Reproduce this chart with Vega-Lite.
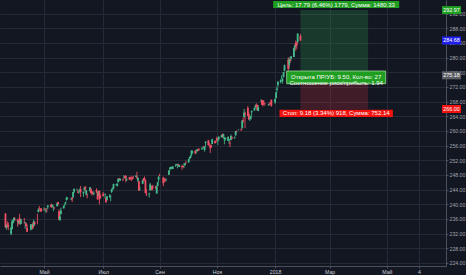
{
  "$schema": "https://vega.github.io/schema/vega-lite/v6.json",
  "width": 446,
  "height": 266,
  "autosize": {"type": "none"},
  "padding": {"left": 0, "top": 0, "right": 20, "bottom": 9},
  "background": "#131722",
  "config": {
    "view": {"stroke": null},
    "font": "Liberation Sans",
    "axis": {"gridColor": "#262a36", "gridWidth": 1, "domainColor": "#4c505c", "tickColor": "#4c505c", "tickSize": 2, "labelFont": "Liberation Sans", "labelFontSize": 5.2, "labelOverlap": false}
  },
  "datasets": {
    "spy": [
      {"date":"2017-03-21","open":237.47,"high":237.61,"low":233.58,"close":233.73},
      {"date":"2017-03-22","open":233.77,"high":234.61,"low":233.05,"close":234.28},
      {"date":"2017-03-23","open":234.28,"high":235.34,"low":233.60,"close":234.03},
      {"date":"2017-03-24","open":234.38,"high":235.04,"low":232.96,"close":233.86},
      {"date":"2017-03-27","open":231.93,"high":233.92,"low":231.61,"close":233.62},
      {"date":"2017-03-28","open":233.27,"high":235.81,"low":233.14,"close":235.32},
      {"date":"2017-03-29","open":234.99,"high":235.81,"low":234.73,"close":235.54},
      {"date":"2017-03-30","open":235.47,"high":236.52,"low":235.27,"close":236.29},
      {"date":"2017-03-31","open":235.90,"high":236.51,"low":235.68,"close":235.74},
      {"date":"2017-04-03","open":235.80,"high":236.03,"low":233.91,"close":235.33},
      {"date":"2017-04-04","open":235.00,"high":235.58,"low":234.56,"close":235.48},
      {"date":"2017-04-05","open":236.26,"high":237.39,"low":234.54,"close":234.78},
      {"date":"2017-04-06","open":234.96,"high":236.04,"low":234.43,"close":235.44},
      {"date":"2017-04-07","open":235.18,"high":236.00,"low":234.64,"close":235.20},
      {"date":"2017-04-10","open":235.36,"high":236.26,"low":234.73,"close":235.34},
      {"date":"2017-04-11","open":234.90,"high":235.18,"low":233.34,"close":235.06},
      {"date":"2017-04-12","open":234.80,"high":234.96,"low":233.77,"close":234.03},
      {"date":"2017-04-13","open":233.64,"high":234.49,"low":232.51,"close":232.51},
      {"date":"2017-04-17","open":233.11,"high":234.57,"low":232.88,"close":234.57},
      {"date":"2017-04-18","open":233.72,"high":234.49,"low":233.08,"close":233.87},
      {"date":"2017-04-19","open":234.52,"high":234.95,"low":233.18,"close":233.44},
      {"date":"2017-04-20","open":234.15,"high":235.85,"low":233.78,"close":235.34},
      {"date":"2017-04-21","open":235.25,"high":235.31,"low":234.13,"close":234.59},
      {"date":"2017-04-24","open":237.18,"high":237.41,"low":234.56,"close":237.17},
      {"date":"2017-04-25","open":237.91,"high":238.95,"low":237.81,"close":238.55},
      {"date":"2017-04-26","open":238.51,"high":239.53,"low":238.35,"close":238.40},
      {"date":"2017-04-27","open":238.77,"high":238.95,"low":237.98,"close":238.60},
      {"date":"2017-04-28","open":238.90,"high":238.93,"low":237.93,"close":238.08},
      {"date":"2017-05-01","open":238.68,"high":239.17,"low":238.20,"close":238.68},
      {"date":"2017-05-02","open":238.84,"high":238.98,"low":238.30,"close":238.77},
      {"date":"2017-05-03","open":238.29,"high":238.88,"low":237.70,"close":238.48},
      {"date":"2017-05-04","open":238.83,"high":238.92,"low":237.78,"close":238.76},
      {"date":"2017-05-05","open":239.19,"high":239.72,"low":238.68,"close":239.70},
      {"date":"2017-05-08","open":239.75,"high":239.92,"low":239.17,"close":239.66},
      {"date":"2017-05-09","open":239.96,"high":240.19,"low":239.04,"close":239.44},
      {"date":"2017-05-10","open":239.39,"high":239.87,"low":239.15,"close":239.87},
      {"date":"2017-05-11","open":239.35,"high":239.57,"low":238.13,"close":239.38},
      {"date":"2017-05-12","open":239.09,"high":239.21,"low":238.67,"close":238.98},
      {"date":"2017-05-15","open":239.47,"high":240.44,"low":239.45,"close":240.30},
      {"date":"2017-05-16","open":240.62,"high":240.67,"low":239.63,"close":240.08},
      {"date":"2017-05-17","open":238.10,"high":238.64,"low":235.75,"close":235.82},
      {"date":"2017-05-18","open":235.73,"high":237.75,"low":235.43,"close":236.77},
      {"date":"2017-05-19","open":237.33,"high":239.08,"low":237.27,"close":238.31},
      {"date":"2017-05-22","open":238.90,"high":239.71,"low":238.82,"close":239.52},
      {"date":"2017-05-23","open":239.95,"high":240.24,"low":239.51,"close":240.05},
      {"date":"2017-05-24","open":240.32,"high":240.73,"low":239.93,"close":240.61},
      {"date":"2017-05-25","open":241.20,"high":242.08,"low":240.96,"close":241.76},
      {"date":"2017-05-26","open":241.54,"high":241.90,"low":241.45,"close":241.71},
      {"date":"2017-05-30","open":241.33,"high":241.79,"low":241.16,"close":241.50},
      {"date":"2017-05-31","open":241.84,"high":241.88,"low":240.64,"close":241.44},
      {"date":"2017-06-01","open":241.97,"high":243.38,"low":241.64,"close":243.36},
      {"date":"2017-06-02","open":243.42,"high":244.35,"low":243.08,"close":244.17},
      {"date":"2017-06-05","open":243.99,"high":244.30,"low":243.76,"close":243.99},
      {"date":"2017-06-06","open":243.34,"high":243.98,"low":243.12,"close":243.21},
      {"date":"2017-06-07","open":243.60,"high":243.92,"low":242.83,"close":243.66},
      {"date":"2017-06-08","open":243.77,"high":244.33,"low":243.17,"close":243.78},
      {"date":"2017-06-09","open":244.09,"high":245.01,"low":241.95,"close":243.41},
      {"date":"2017-06-12","open":243.03,"high":243.57,"low":242.02,"close":243.36},
      {"date":"2017-06-13","open":243.98,"high":244.61,"low":243.58,"close":244.55},
      {"date":"2017-06-14","open":244.86,"high":244.87,"low":243.29,"close":244.24},
      {"date":"2017-06-15","open":242.68,"high":243.91,"low":242.36,"close":243.77},
      {"date":"2017-06-16","open":242.77,"high":242.83,"low":241.63,"close":242.64},
      {"date":"2017-06-19","open":243.59,"high":244.73,"low":243.48,"close":244.66},
      {"date":"2017-06-20","open":244.25,"high":244.26,"low":242.99,"close":243.01},
      {"date":"2017-06-21","open":243.46,"high":243.59,"low":242.41,"close":242.95},
      {"date":"2017-06-22","open":242.96,"high":243.53,"low":242.64,"close":242.84},
      {"date":"2017-06-23","open":242.91,"high":243.51,"low":242.47,"close":243.13},
      {"date":"2017-06-26","open":243.90,"high":244.38,"low":243.05,"close":243.29},
      {"date":"2017-06-27","open":243.04,"high":243.38,"low":241.31,"close":241.33},
      {"date":"2017-06-28","open":242.50,"high":243.72,"low":242.23,"close":243.49},
      {"date":"2017-06-29","open":243.66,"high":243.72,"low":239.96,"close":241.35},
      {"date":"2017-06-30","open":242.28,"high":242.71,"low":241.58,"close":241.80},
      {"date":"2017-07-03","open":242.88,"high":243.38,"low":242.21,"close":242.21},
      {"date":"2017-07-05","open":242.63,"high":243.01,"low":241.70,"close":242.77},
      {"date":"2017-07-06","open":241.83,"high":241.91,"low":240.45,"close":240.55},
      {"date":"2017-07-07","open":241.22,"high":242.36,"low":241.00,"close":242.11},
      {"date":"2017-07-10","open":241.99,"high":242.80,"low":241.76,"close":242.37},
      {"date":"2017-07-11","open":242.12,"high":242.55,"low":240.85,"close":242.19},
      {"date":"2017-07-12","open":243.36,"high":244.23,"low":243.07,"close":244.01},
      {"date":"2017-07-13","open":244.12,"high":244.54,"low":243.92,"close":244.42},
      {"date":"2017-07-14","open":244.38,"high":245.63,"low":244.09,"close":245.56},
      {"date":"2017-07-17","open":245.38,"high":245.61,"low":245.08,"close":245.53},
      {"date":"2017-07-18","open":245.03,"high":245.66,"low":244.85,"close":245.66},
      {"date":"2017-07-19","open":246.03,"high":247.00,"low":245.92,"close":246.99},
      {"date":"2017-07-20","open":247.11,"high":247.20,"low":246.40,"close":246.96},
      {"date":"2017-07-21","open":246.51,"high":247.06,"low":246.33,"close":246.94},
      {"date":"2017-07-24","open":246.81,"high":247.01,"low":246.36,"close":246.69},
      {"date":"2017-07-25","open":247.30,"high":247.99,"low":247.04,"close":247.43},
      {"date":"2017-07-26","open":247.64,"high":247.64,"low":247.04,"close":247.42},
      {"date":"2017-07-27","open":247.76,"high":248.00,"low":246.05,"close":247.05},
      {"date":"2017-07-28","open":246.66,"high":247.27,"low":246.28,"close":246.81},
      {"date":"2017-07-31","open":247.38,"high":247.50,"low":246.63,"close":246.77},
      {"date":"2017-08-01","open":247.46,"high":247.50,"low":246.72,"close":247.32},
      {"date":"2017-08-02","open":247.47,"high":247.60,"low":246.37,"close":247.44},
      {"date":"2017-08-03","open":247.31,"high":247.34,"low":246.64,"close":246.96},
      {"date":"2017-08-04","open":247.52,"high":247.79,"low":246.97,"close":247.41},
      {"date":"2017-08-07","open":247.49,"high":247.87,"low":247.37,"close":247.87},
      {"date":"2017-08-08","open":247.51,"high":248.91,"low":246.83,"close":247.26},
      {"date":"2017-08-09","open":246.47,"high":247.31,"low":246.06,"close":247.25},
      {"date":"2017-08-10","open":246.28,"high":246.44,"low":243.70,"close":243.76},
      {"date":"2017-08-11","open":244.02,"high":244.80,"low":243.75,"close":244.12},
      {"date":"2017-08-14","open":245.59,"high":246.79,"low":245.55,"close":246.54},
      {"date":"2017-08-15","open":247.07,"high":247.19,"low":246.18,"close":246.51},
      {"date":"2017-08-16","open":247.11,"high":247.57,"low":246.45,"close":246.94},
      {"date":"2017-08-17","open":246.53,"high":246.86,"low":243.09,"close":243.09},
      {"date":"2017-08-18","open":242.95,"high":244.20,"low":242.20,"close":242.71},
      {"date":"2017-08-21","open":242.68,"high":243.20,"low":241.83,"close":242.90},
      {"date":"2017-08-22","open":243.81,"high":245.86,"low":243.79,"close":245.44},
      {"date":"2017-08-23","open":244.33,"high":245.05,"low":243.84,"close":244.56},
      {"date":"2017-08-24","open":245.00,"high":245.18,"low":243.75,"close":243.99},
      {"date":"2017-08-25","open":244.67,"high":245.33,"low":244.23,"close":244.56},
      {"date":"2017-08-28","open":244.93,"high":245.06,"low":244.08,"close":244.57},
      {"date":"2017-08-29","open":242.93,"high":245.16,"low":242.91,"close":244.85},
      {"date":"2017-08-30","open":245.05,"high":246.13,"low":244.93,"close":246.01},
      {"date":"2017-08-31","open":246.72,"high":247.77,"low":246.05,"close":247.49},
      {"date":"2017-09-01","open":247.92,"high":248.33,"low":247.67,"close":247.84},
      {"date":"2017-09-05","open":247.26,"high":247.52,"low":244.95,"close":245.76},
      {"date":"2017-09-06","open":246.84,"high":247.28,"low":246.01,"close":246.58},
      {"date":"2017-09-07","open":246.89,"high":247.00,"low":246.07,"close":246.65},
      {"date":"2017-09-08","open":246.54,"high":247.11,"low":246.30,"close":246.58},
      {"date":"2017-09-11","open":248.04,"high":249.30,"low":248.02,"close":249.21},
      {"date":"2017-09-12","open":249.65,"high":250.09,"low":249.08,"close":250.05},
      {"date":"2017-09-13","open":249.70,"high":250.21,"low":249.59,"close":250.17},
      {"date":"2017-09-14","open":249.93,"high":250.32,"low":249.60,"close":250.09},
      {"date":"2017-09-15","open":249.61,"high":250.39,"low":249.61,"close":250.35},
      {"date":"2017-09-18","open":250.54,"high":250.96,"low":250.25,"close":250.56},
      {"date":"2017-09-19","open":250.77,"high":250.95,"low":250.53,"close":250.92},
      {"date":"2017-09-20","open":250.81,"high":251.05,"low":249.84,"close":251.04},
      {"date":"2017-09-21","open":250.89,"high":251.00,"low":250.26,"close":250.62},
      {"date":"2017-09-22","open":250.20,"high":250.76,"low":250.13,"close":250.70},
      {"date":"2017-09-25","open":250.43,"high":250.80,"low":249.41,"close":250.15},
      {"date":"2017-09-26","open":250.46,"high":250.54,"low":249.90,"close":250.21},
      {"date":"2017-09-27","open":250.90,"high":251.26,"low":249.88,"close":250.94},
      {"date":"2017-09-28","open":250.71,"high":251.17,"low":250.43,"close":251.23},
      {"date":"2017-09-29","open":251.30,"high":251.87,"low":250.99,"close":251.23},
      {"date":"2017-10-02","open":251.49,"high":252.32,"low":251.29,"close":252.32},
      {"date":"2017-10-03","open":252.44,"high":252.89,"low":252.23,"close":252.86},
      {"date":"2017-10-04","open":252.69,"high":253.44,"low":252.56,"close":253.16},
      {"date":"2017-10-05","open":253.54,"high":254.68,"low":253.20,"close":254.66},
      {"date":"2017-10-06","open":254.15,"high":254.70,"low":253.85,"close":254.37},
      {"date":"2017-10-09","open":254.60,"high":254.70,"low":253.65,"close":253.95},
      {"date":"2017-10-10","open":254.60,"high":254.87,"low":253.78,"close":254.62},
      {"date":"2017-10-11","open":254.49,"high":255.03,"low":254.32,"close":255.02},
      {"date":"2017-10-12","open":254.85,"high":255.17,"low":254.52,"close":254.64},
      {"date":"2017-10-13","open":255.14,"high":255.27,"low":254.64,"close":254.95},
      {"date":"2017-10-16","open":255.21,"high":255.51,"low":254.82,"close":255.29},
      {"date":"2017-10-17","open":255.23,"high":255.52,"low":254.98,"close":255.47},
      {"date":"2017-10-18","open":255.90,"high":255.95,"low":255.50,"close":255.72},
      {"date":"2017-10-19","open":254.83,"high":255.83,"low":254.35,"close":255.79},
      {"date":"2017-10-20","open":256.70,"high":257.14,"low":255.77,"close":257.11},
      {"date":"2017-10-23","open":257.48,"high":257.51,"low":256.02,"close":256.11},
      {"date":"2017-10-24","open":256.60,"high":256.83,"low":256.15,"close":256.56},
      {"date":"2017-10-25","open":256.18,"high":256.31,"low":254.00,"close":255.29},
      {"date":"2017-10-26","open":255.99,"high":256.30,"low":255.48,"close":255.62},
      {"date":"2017-10-27","open":256.47,"high":257.89,"low":256.41,"close":257.71},
      {"date":"2017-10-30","open":257.18,"high":257.44,"low":256.51,"close":256.75},
      {"date":"2017-10-31","open":257.18,"high":257.44,"low":256.80,"close":257.15},
      {"date":"2017-11-01","open":258.04,"high":258.43,"low":257.07,"close":257.49},
      {"date":"2017-11-02","open":257.41,"high":257.75,"low":256.19,"close":257.59},
      {"date":"2017-11-03","open":257.77,"high":258.50,"low":257.30,"close":258.45},
      {"date":"2017-11-06","open":258.30,"high":259.00,"low":258.22,"close":258.85},
      {"date":"2017-11-07","open":258.97,"high":259.35,"low":258.09,"close":258.67},
      {"date":"2017-11-08","open":258.47,"high":259.22,"low":258.15,"close":259.11},
      {"date":"2017-11-09","open":257.73,"high":258.39,"low":256.36,"close":258.17},
      {"date":"2017-11-10","open":257.73,"high":258.29,"low":257.37,"close":258.09},
      {"date":"2017-11-13","open":257.31,"high":258.59,"low":257.27,"close":258.33},
      {"date":"2017-11-14","open":257.41,"high":257.85,"low":256.52,"close":257.73},
      {"date":"2017-11-15","open":256.57,"high":257.22,"low":255.63,"close":256.44},
      {"date":"2017-11-16","open":257.52,"high":259.04,"low":257.44,"close":258.62},
      {"date":"2017-11-17","open":258.22,"high":258.52,"low":257.86,"close":257.86},
      {"date":"2017-11-20","open":258.14,"high":258.53,"low":257.86,"close":258.30},
      {"date":"2017-11-21","open":258.87,"high":259.99,"low":258.64,"close":259.99},
      {"date":"2017-11-22","open":259.88,"high":260.14,"low":259.57,"close":259.76},
      {"date":"2017-11-24","open":260.32,"high":260.48,"low":260.16,"close":260.36},
      {"date":"2017-11-27","open":260.41,"high":260.75,"low":260.00,"close":260.23},
      {"date":"2017-11-28","open":260.76,"high":262.90,"low":260.66,"close":262.87},
      {"date":"2017-11-29","open":263.02,"high":263.63,"low":262.20,"close":262.71},
      {"date":"2017-11-30","open":263.76,"high":266.05,"low":263.67,"close":265.01},
      {"date":"2017-12-01","open":264.76,"high":265.31,"low":260.76,"close":264.46},
      {"date":"2017-12-04","open":266.31,"high":266.80,"low":264.08,"close":264.14},
      {"date":"2017-12-05","open":264.63,"high":265.15,"low":263.04,"close":263.19},
      {"date":"2017-12-06","open":263.20,"high":263.84,"low":262.71,"close":263.24},
      {"date":"2017-12-07","open":263.19,"high":264.22,"low":263.17,"close":264.07},
      {"date":"2017-12-08","open":265.10,"high":265.52,"low":264.03,"close":265.51},
      {"date":"2017-12-11","open":265.58,"high":266.34,"low":265.48,"close":266.31},
      {"date":"2017-12-12","open":266.45,"high":267.24,"low":266.09,"close":266.78},
      {"date":"2017-12-13","open":267.06,"high":267.56,"low":266.65,"close":266.75},
      {"date":"2017-12-14","open":267.09,"high":267.22,"low":265.60,"close":265.66},
      {"date":"2017-12-15","open":265.45,"high":267.04,"low":265.39,"close":266.51},
      {"date":"2017-12-18","open":268.10,"high":268.60,"low":267.98,"close":268.20},
      {"date":"2017-12-19","open":268.48,"high":268.53,"low":267.09,"close":267.17},
      {"date":"2017-12-20","open":268.27,"high":268.33,"low":266.69,"close":267.03},
      {"date":"2017-12-21","open":267.74,"high":268.39,"low":267.30,"close":267.58},
      {"date":"2017-12-22","open":267.60,"high":267.64,"low":266.90,"close":267.51},
      {"date":"2017-12-26","open":267.05,"high":267.44,"low":266.89,"close":267.19},
      {"date":"2017-12-27","open":267.38,"high":267.73,"low":267.01,"close":267.32},
      {"date":"2017-12-28","open":267.89,"high":267.92,"low":267.45,"close":267.87},
      {"date":"2017-12-29","open":268.53,"high":268.55,"low":266.64,"close":266.86},
      {"date":"2018-01-02","open":267.84,"high":268.81,"low":267.40,"close":268.77},
      {"date":"2018-01-03","open":268.96,"high":270.64,"low":268.96,"close":270.47},
      {"date":"2018-01-04","open":271.20,"high":272.16,"low":270.54,"close":271.61},
      {"date":"2018-01-05","open":272.51,"high":273.56,"low":271.95,"close":273.42},
      {"date":"2018-01-08","open":273.31,"high":274.10,"low":272.98,"close":273.92},
      {"date":"2018-01-09","open":274.40,"high":275.25,"low":274.08,"close":274.54},
      {"date":"2018-01-10","open":273.68,"high":274.42,"low":272.92,"close":274.12},
      {"date":"2018-01-11","open":274.75,"high":276.12,"low":274.56,"close":276.12},
      {"date":"2018-01-12","open":276.42,"high":278.11,"low":276.27,"close":277.92},
      {"date":"2018-01-16","open":279.35,"high":280.09,"low":276.18,"close":276.97},
      {"date":"2018-01-17","open":278.03,"high":280.05,"low":276.97,"close":279.61},
      {"date":"2018-01-18","open":279.48,"high":279.96,"low":278.58,"close":279.14},
      {"date":"2018-01-19","open":279.80,"high":280.41,"low":279.14,"close":280.41},
      {"date":"2018-01-22","open":280.17,"high":282.69,"low":280.11,"close":282.69},
      {"date":"2018-01-23","open":282.74,"high":283.62,"low":282.37,"close":283.29},
      {"date":"2018-01-24","open":284.02,"high":284.70,"low":281.84,"close":283.18},
      {"date":"2018-01-25","open":284.16,"high":284.27,"low":282.41,"close":283.30},
      {"date":"2018-01-26","open":284.25,"high":286.63,"low":283.96,"close":286.58},
      {"date":"2018-01-29","open":285.93,"high":286.43,"low":284.50,"close":284.68}
    ],
    "position": [
      {"date":"2018-01-29","end":"2018-04-11","target":292.97,"entry":275.18,"stop":266.00}
    ],
    "tags": [
      {"kind":"target","price":292.97},
      {"kind":"last","price":284.68},
      {"kind":"entry","price":275.18},
      {"kind":"stop","price":266.00}
    ],
    "labelTop": [{"date":"2018-03-08","price":292.97,"text":"Цель: 17.79 (6.46%) 1779, Сумма: 1480.33"}],
    "labelMid": [{"date":"2018-03-08","price":275.18,"text":"Открыта ПР/УБ: 9.50, Кол-во: 27\nСоотношение риск/прибыль: 1.94"}],
    "labelBot": [{"date":"2018-03-08","price":266.00,"text":"Стоп: 9.18 (3.34%) 918, Сумма: 752.14"}]
  },
  "layer": [
    {
      "data": {"name": "position"},
      "mark": {"type": "rect", "color": "#2e9e4f", "opacity": 0.25},
      "encoding": {
        "x": {"field": "date", "type": "temporal", "title": null,
          "scale": {"type": "utc", "domain": [{"year":2017,"month":3,"date":20,"hours":12,"utc":true},{"year":2018,"month":6,"date":27,"hours":14,"utc":true}]},
          "axis": {"orient": "bottom", "title": null, "grid": true, "labelColor": "#c9cbd2", "labelPadding": 1, "labelOverlap": false, "tickCount": 40,
            "values": [{"year":2017,"month":5,"date":1,"utc":true},{"year":2017,"month":7,"date":3,"utc":true},{"year":2017,"month":9,"date":1,"utc":true},{"year":2017,"month":11,"date":1,"utc":true},{"year":2018,"month":1,"date":2,"utc":true},{"year":2018,"month":3,"date":1,"utc":true},{"year":2018,"month":5,"date":1,"utc":true},{"year":2018,"month":6,"date":4,"utc":true}],
            "labelExpr": "['2018','','Мар','','Май','4','Июл','','Сен','','Ноя',''][utcmonth(datum.value)]"}},
        "x2": {"field": "end"},
        "y": {"field": "entry", "type": "quantitative", "title": null,
          "scale": {"domain": [223.18, 295.72], "nice": false, "zero": false},
          "axis": {"orient": "right", "title": null, "grid": true, "format": ".2f", "labelColor": "#a0a3ab", "labelPadding": 1, "labelOverlap": false, "labelBound": false, "tickCount": 40,
            "values": [224,228,232,236,240,244,248,252,256,260,264,268,272,276,280,284,288,292]}},
        "y2": {"field": "target"}
      }
    },
    {
      "data": {"name": "position"},
      "mark": {"type": "rect", "color": "#c8283c", "opacity": 0.25},
      "encoding": {
        "x": {"field": "date", "type": "temporal", "title": null},
        "x2": {"field": "end"},
        "y": {"field": "stop", "type": "quantitative", "title": null},
        "y2": {"field": "entry"}
      }
    },
    {
      "mark": {"type": "rule", "color": "#2626b8", "strokeWidth": 1},
      "encoding": {"y": {"datum": 284.68, "type": "quantitative"}}
    },
    {
      "data": {"name": "spy"},
      "mark": {"type": "rule", "strokeWidth": 1},
      "encoding": {
        "x": {"field": "date", "type": "temporal", "title": null},
        "y": {"field": "low", "type": "quantitative", "title": null},
        "y2": {"field": "high"},
        "color": {"condition": {"test": "datum.close >= datum.open", "value": "#3aa57c"}, "value": "#d9485b"}
      }
    },
    {
      "data": {"name": "spy"},
      "mark": {"type": "bar", "size": 1.8},
      "encoding": {
        "x": {"field": "date", "type": "temporal", "title": null},
        "y": {"field": "open", "type": "quantitative", "title": null},
        "y2": {"field": "close"},
        "color": {"condition": {"test": "datum.close >= datum.open", "value": "#45b98b"}, "value": "#ee5064"}
      }
    },
    {
      "data": {"name": "labelTop"},
      "mark": {"type": "rect", "color": "#1f9e22", "xOffset": -63, "x2Offset": 63, "yOffset": -9, "y2Offset": -2},
      "encoding": {
        "x": {"field": "date", "type": "temporal", "title": null},
        "x2": {"field": "date"},
        "y": {"field": "price", "type": "quantitative", "title": null},
        "y2": {"field": "price"}
      }
    },
    {
      "data": {"name": "labelTop"},
      "mark": {"type": "text", "color": "#ffffff", "fontSize": 6, "align": "center", "baseline": "middle", "dy": -5.5},
      "encoding": {
        "x": {"field": "date", "type": "temporal", "title": null},
        "y": {"field": "price", "type": "quantitative", "title": null},
        "text": {"field": "text"}
      }
    },
    {
      "data": {"name": "labelMid"},
      "mark": {"type": "rect", "color": "#1f9e22", "stroke": "#9ad89a", "strokeWidth": 0.8, "xOffset": -49.5, "x2Offset": 49.5, "yOffset": -4.3, "y2Offset": 8.4},
      "encoding": {
        "x": {"field": "date", "type": "temporal", "title": null},
        "x2": {"field": "date"},
        "y": {"field": "price", "type": "quantitative", "title": null},
        "y2": {"field": "price"}
      }
    },
    {
      "data": {"name": "labelMid"},
      "mark": {"type": "text", "color": "#ffffff", "fontSize": 6, "align": "center", "baseline": "middle", "dy": 2.1, "lineBreak": "\n", "lineHeight": 5.8},
      "encoding": {
        "x": {"field": "date", "type": "temporal", "title": null},
        "y": {"field": "price", "type": "quantitative", "title": null},
        "text": {"field": "text"}
      }
    },
    {
      "data": {"name": "labelBot"},
      "mark": {"type": "rect", "color": "#f2120f", "xOffset": -56.7, "x2Offset": 56.7, "yOffset": 0.7, "y2Offset": 8},
      "encoding": {
        "x": {"field": "date", "type": "temporal", "title": null},
        "x2": {"field": "date"},
        "y": {"field": "price", "type": "quantitative", "title": null},
        "y2": {"field": "price"}
      }
    },
    {
      "data": {"name": "labelBot"},
      "mark": {"type": "text", "color": "#ffffff", "fontSize": 6, "align": "center", "baseline": "middle", "dy": 4.4},
      "encoding": {
        "x": {"field": "date", "type": "temporal", "title": null},
        "y": {"field": "price", "type": "quantitative", "title": null},
        "text": {"field": "text"}
      }
    },
    {
      "data": {"name": "tags"},
      "mark": {"type": "rect", "xOffset": 1, "x2Offset": 20, "yOffset": -4, "y2Offset": 4},
      "encoding": {
        "x": {"datum": {"year":2018,"month":6,"date":27,"hours":14,"utc":true}, "type": "temporal"},
        "x2": {"datum": {"year":2018,"month":6,"date":27,"hours":14,"utc":true}},
        "y": {"field": "price", "type": "quantitative", "title": null},
        "y2": {"field": "price"},
        "color": {"field": "kind", "type": "nominal", "legend": null,
          "scale": {"domain": ["target","last","entry","stop"], "range": ["#1f9e22","#1f1ff0","#5d5e63","#f2120f"]}}
      }
    },
    {
      "data": {"name": "tags"},
      "mark": {"type": "text", "color": "#ffffff", "fontSize": 5.4, "align": "center", "baseline": "middle", "dx": 10.5},
      "encoding": {
        "x": {"datum": {"year":2018,"month":6,"date":27,"hours":14,"utc":true}, "type": "temporal"},
        "y": {"field": "price", "type": "quantitative", "title": null},
        "text": {"field": "price", "type": "quantitative", "format": ".2f"}
      }
    }
  ]
}
